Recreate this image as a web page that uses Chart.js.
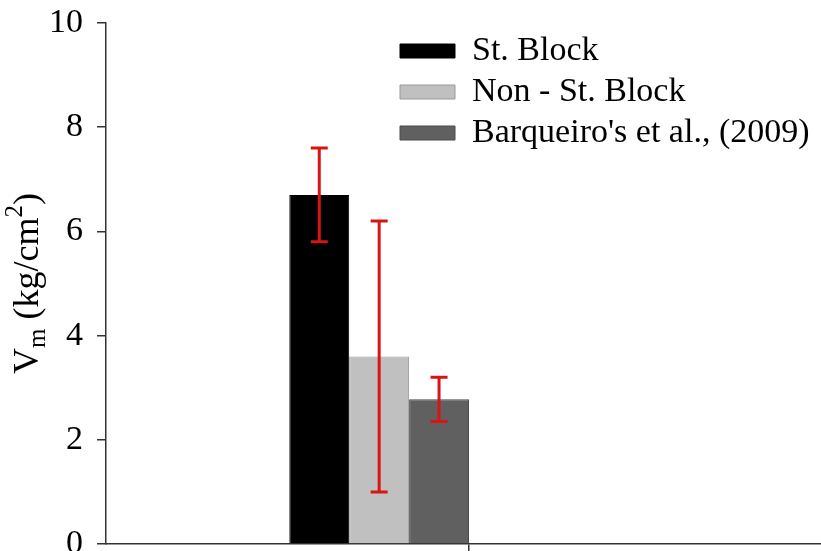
<!DOCTYPE html>
<html>
<head>
<meta charset="utf-8">
<script src="https://cdn.jsdelivr.net/npm/chart.js@4.4.0/dist/chart.umd.min.js"></script>
<style>
  html, body { margin: 0; padding: 0; background: #fff; overflow: hidden; }
  #wrap { width: 821px; height: 551px; overflow: hidden; }
</style>
</head>
<body>
<div id="wrap"><canvas id="chart" width="840" height="552"></canvas></div>
<script>
const categories = [''];
const seriesNames = ['St. Block', 'Non - St. Block', "Barqueiro's et al., (2009)"];
const vmValues = [6.7, 3.6, 2.78];
const errLow = [5.8, 1.0, 2.35];
const errHigh = [7.6, 6.2, 3.2];
const yTicks = [0, 2, 4, 6, 8, 10];
const barColors = ['#000000', '#c0c0c0', '#606060'];
const barEdges = ['#000000', '#9a9a9a', '#4a4a4a'];
const emptySlots = 3; // the original group reserves three more (empty) slots

const serif = "'Liberation Serif', 'Times New Roman', serif";
Chart.defaults.font.family = serif;
Chart.defaults.font.size = 34;
Chart.defaults.color = '#000';

const datasets = seriesNames.map((name, i) => ({
    label: name,
    data: [vmValues[i]],
    backgroundColor: barColors[i],
    borderColor: barEdges[i],
    borderWidth: 1,
    barPercentage: 1,
    categoryPercentage: 0.495
}));
for (let k = 0; k < emptySlots; k++) {
    datasets.push({ label: '', data: [null], barPercentage: 1, categoryPercentage: 0.495 });
}

// red error bars, placed with the y scale
const errorBars = {
    id: 'errorBars',
    afterDatasetsDraw(chart) {
        const ctx = chart.ctx;
        const y = chart.scales.y;
        ctx.save();
        ctx.strokeStyle = '#d81414';
        ctx.lineWidth = 3;
        seriesNames.forEach((_, i) => {
            const bar = chart.getDatasetMeta(i).data[0];
            const top = y.getPixelForValue(errHigh[i]);
            const bot = y.getPixelForValue(errLow[i]);
            ctx.beginPath();
            ctx.moveTo(bar.x, top); ctx.lineTo(bar.x, bot);
            ctx.moveTo(bar.x - 8.5, top); ctx.lineTo(bar.x + 8.5, top);
            ctx.moveTo(bar.x - 8.5, bot); ctx.lineTo(bar.x + 8.5, bot);
            ctx.stroke();
        });
        ctx.restore();
    }
};

// y title with subscript and superscript
const yTitle = {
    id: 'yTitle',
    afterDraw(chart) {
        const ctx = chart.ctx;
        const parts = [
            { t: 'V', size: 36, dy: 0 },
            { t: 'm', size: 25, dy: 7 },
            { t: ' (kg/cm', size: 36, dy: 0 },
            { t: '2', size: 25, dy: -16 },
            { t: ')', size: 36, dy: 0 }
        ];
        ctx.save();
        let total = 0;
        parts.forEach(p => { ctx.font = p.size + 'px ' + serif; p.w = ctx.measureText(p.t).width; total += p.w; });
        const midY = (chart.chartArea.top + chart.chartArea.bottom) / 2;
        ctx.translate(38, midY);
        ctx.rotate(-Math.PI / 2);
        ctx.fillStyle = '#000';
        ctx.textBaseline = 'alphabetic';
        let x = -total / 2;
        parts.forEach(p => {
            ctx.font = p.size + 'px ' + serif;
            ctx.fillText(p.t, x, p.dy);
            x += p.w;
        });
        ctx.restore();
    }
};

// move the legend to the upper right of the plot
const legendPlace = {
    id: 'legendPlace',
    afterLayout(chart) {
        const lg = chart.legend;
        lg.left = 393; lg.top = 27;
        lg.width = 821 - 393; lg.height = 140;
        lg.right = lg.left + lg.width; lg.bottom = lg.top + lg.height;
    }
};

new Chart(document.getElementById('chart'), {
    type: 'bar',
    data: { labels: categories, datasets: datasets },
    options: {
        responsive: false,
        animation: false,
        layout: { padding: { top: 23, right: 8, left: 0, bottom: 0 } },
        plugins: {
            legend: {
                position: 'chartArea',
                align: 'start',
                labels: {
                    boxWidth: 55,
                    boxHeight: 14,
                    padding: 7,
                    font: { size: 34 },
                    filter: item => item.datasetIndex < seriesNames.length
                }
            },
            tooltip: { enabled: false }
        },
        scales: {
            x: {
                grid: { offset: false, drawOnChartArea: false, drawTicks: true, tickLength: 8, color: '#333', lineWidth: 1.5 },
                border: { color: '#333', width: 1.5 },
                ticks: { display: false }
            },
            y: {
                min: 0,
                max: 10,
                afterBuildTicks: s => { s.ticks = yTicks.map(v => ({ value: v })); },
                afterFit: s => { s.width = 106; s.paddingTop = 0; s.paddingBottom = 0; },
                grid: { drawOnChartArea: false, drawTicks: true, tickLength: 9, color: '#333', lineWidth: 1.5 },
                border: { color: '#333', width: 1.5 },
                ticks: { padding: 14, font: { size: 34 }, color: '#000' }
            }
        }
    },
    plugins: [errorBars, yTitle, legendPlace]
});
</script>
</body>
</html>
